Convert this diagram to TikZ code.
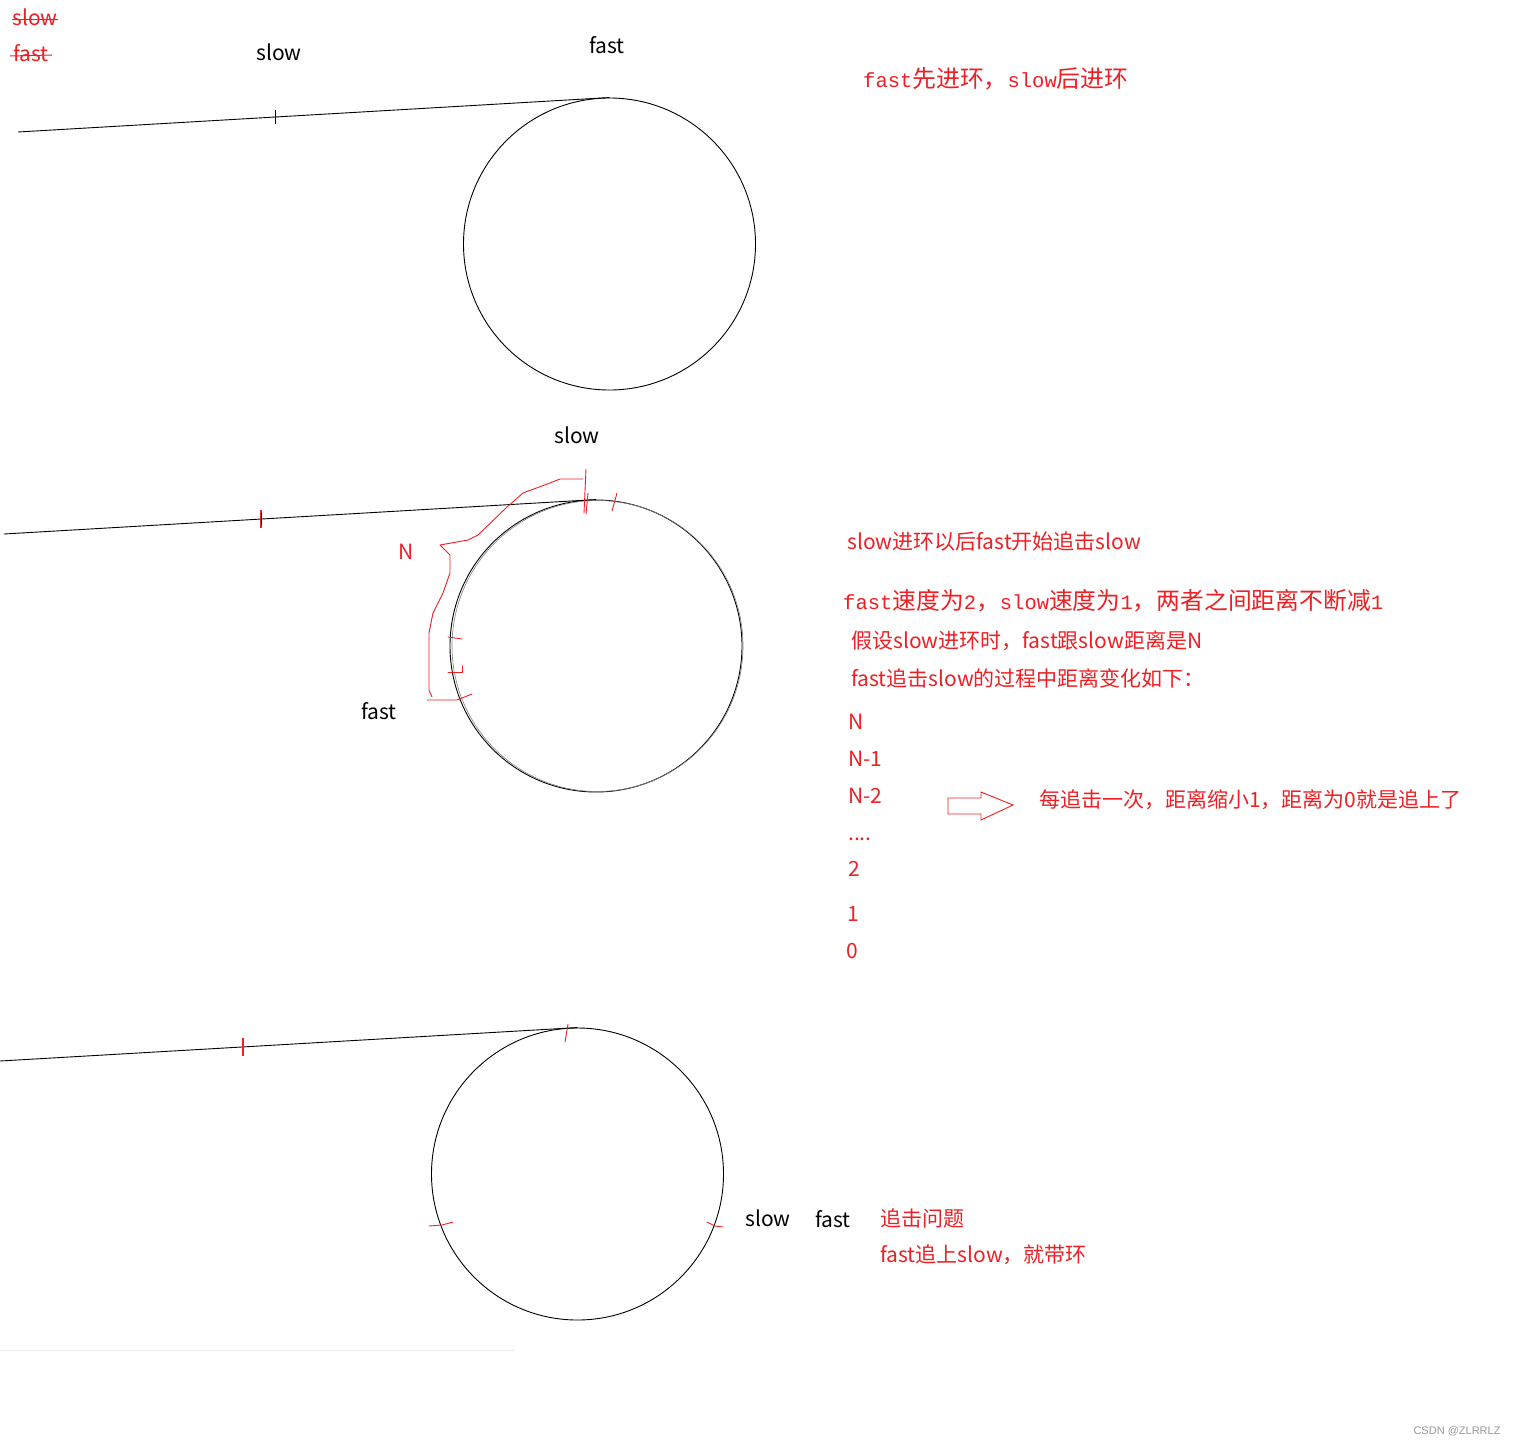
\documentclass[tikz,border=0pt]{standalone}
\usepackage{fontspec}
\setmainfont{Noto Sans CJK SC}
\newfontfamily\monof{Liberation Mono}
\newfontfamily\wmf{Liberation Sans}
\definecolor{rd}{RGB}{237,32,36}
\newcommand{\ml}[1]{{\monof\fontsize{20.5}{24}\selectfont #1}}
\begin{document}
\begin{tikzpicture}[x=1pt,y=-1pt,
  lab/.style={inner sep=0pt, font=\fontsize{21}{24}\selectfont},
  rlab/.style={lab, text=rd, anchor=west},
  mlab/.style={inner sep=0pt, text=rd, anchor=west, font=\fontsize{23.8}{24}\selectfont},
  ring/.style={circle, draw, line width=0.9pt, minimum size=292pt, inner sep=0pt},
  ln/.style={line width=0.9pt, black},
  rline/.style={rd, line width=0.9pt, line join=round, line cap=round}]
\useasboundingbox (0,0) rectangle (1514,1445);
\fill[white] (0,0) rectangle (1514,1445);

% ---------- top-left legend ----------
\node[rlab, anchor=center] (lgs) at (35,17) {slow};
\node[rlab, anchor=center] (lgf) at (31,53) {fast};
\draw[rd, line width=0.8pt] ([yshift=-2pt]lgs.west) -- ([yshift=-2pt]lgs.east);
\draw[rd, line width=1pt] ([xshift=-3pt,yshift=-3pt]lgf.west) -- ([xshift=3pt,yshift=-2pt]lgf.east);

% ---------- diagram 1 ----------
\node[ring] (c1) at (609.5,244) {};
\coordinate (l1s) at (18,132);
\draw[ln] (l1s) -- (c1.north) coordinate[pos=0.4345] (t1);
\draw[ln] ([yshift=-7pt]t1) -- ([yshift=7pt]t1);
\node[lab] (s1) at (279,52) {slow};
\node[lab] (f1) at (607,45) {fast};
\node[mlab] (txt1) at (863,79) {\ml{fast}先进环，\ml{slow}后进环};

% ---------- diagram 2 ----------
\node[ring] (c2) at (596,646) {};
\node[circle, draw=gray, line width=0.6pt, minimum size=291pt, inner sep=0pt] (c2b) at (597.5,646) {};
\coordinate (l2s) at (4,534);
\draw[ln] (l2s) -- (c2.north) coordinate[pos=0.434] (t2);
\draw[rd, line width=1.4pt] ([yshift=-9pt]t2) -- ([yshift=9pt]t2);
\draw[black, line width=0.6pt] ([yshift=-6pt]t2) -- ([yshift=6pt]t2);
\node[lab] (s2) at (577,435) {slow};
\node[lab] (f2) at (379,711) {fast};
\node[lab, text=rd] (n2) at (406,552) {N};
% freehand N bracket
\draw[rline] (583,479) -- (560,479) -- (550,483) -- (523,493) -- (507,507) -- (478,535)
  -- (468,540) -- (440,545) -- (450,555) -- (450,573) -- (443,593) -- (433,613)
  -- (429,633) -- (429,690) -- (432,697);
\draw[rline] (427,700) -- (457,700) -- (472,694);
\draw[rline] (586,469) -- (584,513);
\draw[rline] (588,493) -- (586,514);
\draw[rline] (617,493) -- (612,511);
\draw[rline] (448,637) -- (462,639);
\draw[rline] (448,672) -- (462,672) -- (462,666);
% texts
\node[rlab] (a1) at (847,542) {slow进环以后fast开始追击slow};
\node[mlab] (a2) at (843,601) {\ml{fast}速度为\ml{2}，\ml{slow}速度为\ml{1}，两者之间距离不断减\ml{1}};
\node[rlab] (a3) at (851,641) {假设slow进环时，fast跟slow距离是N};
\node[rlab] (a4) at (851,678) {fast追击slow的过程中距离变化如下：};
\node[rlab] (d1) at (848,722) {N};
\node[rlab] (d2) at (848,759) {N-1};
\node[rlab] (d3) at (848,796) {N-2};
\node[rlab] (d4) at (848,839) {....};
\node[rlab] (d5) at (848,869) {2};
\node[rlab] (d6) at (847,914) {1};
\node[rlab] (d7) at (846,951) {0};
% hollow arrow
\draw[rd, line width=0.9pt, line join=miter] (948,798) -- (981,798) -- (981,792) -- (1013,805)
  -- (981,820) -- (981,814) -- (948,814) -- cycle;
\node[rlab] (a5) at (1039,800) {每追击一次，距离缩小1，距离为0就是追上了};

% ---------- diagram 3 ----------
\node[ring] (c3) at (577.5,1174) {};
\coordinate (l3s) at (0,1061);
\draw[ln] (l3s) -- (c3.north) coordinate[pos=0.4208] (t3);
\draw[rd, line width=1.2pt] ([yshift=-9pt]t3) -- ([yshift=9pt]t3);
\draw[rline] (568,1024) -- (565,1042);
\draw[rline] (429,1226) -- (442,1225) -- (453,1222);
\draw[rline] (707,1222) -- (715,1226) -- (723,1227);
\node[lab] (s3) at (768,1218) {slow};
\node[lab] (f3) at (833,1219) {fast};
\node[rlab] (b1) at (880,1218) {追击问题};
\node[rlab] (b2) at (880,1255) {fast追上slow，就带环};

% faint rule and watermark
\draw[gray!15, line width=1pt] (0,1350) -- (515,1350);
\node[inner sep=0pt, text=gray!80, font=\wmf\fontsize{11}{12}\selectfont] (wm) at (1457,1431) {CSDN @ZLRRLZ};
\end{tikzpicture}
\end{document}
